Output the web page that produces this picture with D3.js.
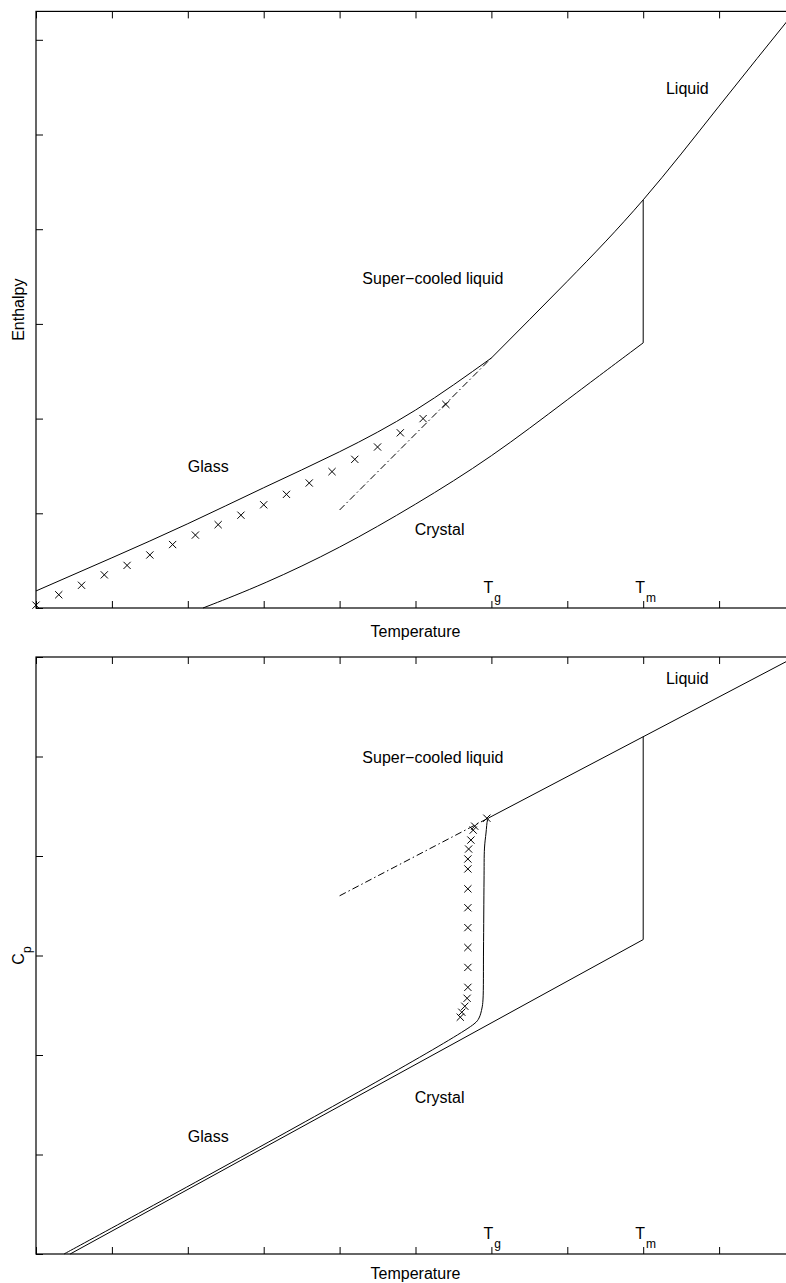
<!DOCTYPE html>
<html>
<head>
<meta charset="utf-8">
<script src="https://cdn.jsdelivr.net/npm/d3@7/dist/d3.min.js"></script>
<style>
  html, body { margin: 0; padding: 0; background: #fff; }
  svg { display: block; }
  text { font-family: "Liberation Sans", Arial, Helvetica, sans-serif; fill: #000; }
</style>
</head>
<body>
<svg id="chart" width="786" height="1283"></svg>
<script>
// ---- Shared temperature axis ----
const xTicks = [0, 1, 2, 3, 4, 5, 6, 7, 8, 9, 10];
const tgTemp = 6;   // glass transition temperature
const tmTemp = 8;   // melting temperature

// ---- Enthalpy panel ----
const hTicks = [0, 1, 2, 3, 4, 5, 6];
const hLiquidT = [6, 7, 8, 9, 10];
const hLiquid  = [2.64, 3.45, 4.31, 5.30, 6.30];
const hGlassT  = [0, 1, 2, 3, 4, 5, 6];
const hGlass   = [0.18, 0.53, 0.89, 1.27, 1.65, 2.09, 2.64];
const hCrystalT = [2.2, 3, 4, 5, 6, 7, 8];
const hCrystal  = [0.0, 0.25, 0.63, 1.09, 1.59, 2.20, 2.80];
const hMeltJump = [2.80, 4.31];
const hExtrapT = [4.0, 6.0];
const hExtrap  = [1.035, 2.64];
const hMarkT = [0, 0.3, 0.6, 0.9, 1.2, 1.5, 1.8, 2.1, 2.4, 2.7, 3.0, 3.3, 3.6, 3.9, 4.2, 4.5, 4.8, 5.1, 5.4];
const hMark  = [0.03, 0.14, 0.24, 0.35, 0.45, 0.56, 0.67, 0.77, 0.88, 0.98, 1.09, 1.20, 1.32, 1.44, 1.57, 1.70, 1.85, 2.00, 2.15];

// ---- Heat capacity panel ----
const cTicks = [0, 1, 2, 3, 4, 5, 6];
const cLiquidT = [5.962, 10];
const cLiquid  = [4.382, 6.0];
const cGlassT = [0.369, 5.771, 5.837, 5.876, 5.889, 5.896, 5.903, 5.909, 5.929, 5.949, 5.962];
const cGlass  = [0.0, 2.312, 2.372, 2.472, 2.553, 3.055, 3.759, 4.080, 4.231, 4.362, 4.382];
const cCrystalT = [0.45, 8];
const cCrystal  = [0.0, 3.16];
const cMeltJump = [3.16, 5.20];
const cExtrapT = [4.0, 5.962];
const cExtrap  = [3.60, 4.382];
const cMarkT = [5.94, 5.78, 5.76, 5.73, 5.70, 5.69, 5.69, 5.69, 5.69, 5.69, 5.69, 5.69, 5.69, 5.68, 5.65, 5.61, 5.59];
const cMark  = [4.38, 4.30, 4.26, 4.16, 4.07, 3.97, 3.87, 3.67, 3.48, 3.28, 3.08, 2.88, 2.68, 2.57, 2.49, 2.43, 2.38];

// Region labels [text, T, value]
const hLabels = [["Liquid", 8.30, 5.43], ["Super\u2212cooled liquid", 4.30, 3.42], ["Glass", 2.00, 1.44], ["Crystal", 4.99, 0.77]];
const cLabels = [["Liquid", 8.30, 5.73], ["Super\u2212cooled liquid", 4.30, 4.93], ["Glass", 2.00, 1.13], ["Crystal", 4.99, 1.52]];

const svg = d3.select("#chart");
const x = d3.scaleLinear().domain([0, 10]).range([36, 795]);

function zip(a, b) { return a.map((v, i) => [v, b[i]]); }

function panel(cfg) {
  const y = d3.scaleLinear().domain(cfg.yDomain).range(cfg.yRange);
  const g = svg.append("g");
  const [yb, yt] = cfg.yRange;
  const xl = x.range()[0], xr = x.range()[1];

  // inward ticks on all four sides
  const tick = 7;
  const axes = [
    [d3.axisBottom(x).tickValues(xTicks), `translate(0,${yb})`],
    [d3.axisTop(x).tickValues(xTicks), `translate(0,${yt})`],
    [d3.axisLeft(y).tickValues(cfg.yTicks), `translate(${xl},0)`],
    [d3.axisRight(y).tickValues(cfg.yTicks), `translate(${xr},0)`]
  ];
  axes.forEach(([ax, tr]) => {
    const a = g.append("g").attr("transform", tr)
      .call(ax.tickSizeInner(-tick).tickSizeOuter(0).tickFormat(() => ""));
    a.select(".domain").remove();
    a.selectAll("line").attr("stroke", "#000").attr("stroke-width", 1);
  });

  g.append("rect")
    .attr("x", xl).attr("y", yt).attr("width", xr - xl).attr("height", yb - yt)
    .attr("fill", "none").attr("stroke", "#000").attr("stroke-width", 1.2);

  const curve = (pts, c) => d3.line().x(d => x(d[0])).y(d => y(d[1])).curve(c || d3.curveLinear)(pts);
  const draw = (pts, c, dash) => g.append("path").attr("d", curve(pts, c))
      .attr("fill", "none").attr("stroke", "#000").attr("stroke-width", 1)
      .attr("stroke-dasharray", dash || null);

  cfg.lines.forEach(l => draw(l.pts, l.curve, l.dash));

  // x markers
  const s = 3.6;
  g.append("g").selectAll("path").data(cfg.marks).join("path")
    .attr("d", d => { const px = x(d[0]), py = y(d[1]);
      return `M${px - s},${py - s}L${px + s},${py + s}M${px - s},${py + s}L${px + s},${py - s}`; })
    .attr("stroke", "#000").attr("stroke-width", 1).attr("fill", "none");

  // region labels
  g.append("g").selectAll("text").data(cfg.labels).join("text")
    .attr("x", d => x(d[1])).attr("y", d => y(d[2]))
    .attr("font-size", 16).text(d => d[0]);

  // Tg, Tm markers
  [["T", "g", tgTemp], ["T", "m", tmTemp]].forEach(([m, sub, t]) => {
    const tx = g.append("text").attr("x", x(t) - 8).attr("y", yb - 15).attr("font-size", 16);
    tx.append("tspan").text(m);
    tx.append("tspan").attr("dx", 1).attr("dy", 9).attr("font-size", 12).text(sub);
  });

  // axis titles
  g.append("text").attr("x", (xl + xr) / 2).attr("y", yb + cfg.xTitleGap)
    .attr("text-anchor", "middle").attr("font-size", 16).text("Temperature");
  const yl = g.append("text")
    .attr("transform", `translate(24,${(yb + yt) / 2}) rotate(-90)`)
    .attr("text-anchor", "middle").attr("font-size", 16);
  yl.append("tspan").text(cfg.yTitle[0]);
  if (cfg.yTitle[1]) yl.append("tspan").attr("dy", 7).attr("font-size", 12).text(cfg.yTitle[1]);
}

panel({
  yDomain: [0, 6.3], yRange: [608, 11.4], yTicks: hTicks, yTitle: ["Enthalpy"], xTitleGap: 29,
  lines: [
    { pts: zip(hLiquidT, hLiquid), curve: d3.curveNatural },
    { pts: zip(hGlassT, hGlass), curve: d3.curveNatural },
    { pts: zip(hCrystalT, hCrystal), curve: d3.curveBasis },
    { pts: [[tmTemp, hMeltJump[0]], [tmTemp, hMeltJump[1]]] },
    { pts: zip(hExtrapT, hExtrap), dash: "7,3,1.5,3" }
  ],
  marks: zip(hMarkT, hMark),
  labels: hLabels
});

panel({
  yDomain: [0, 6], yRange: [1254, 657], yTicks: cTicks, yTitle: ["C", "p"], xTitleGap: 25,
  lines: [
    { pts: zip(cLiquidT, cLiquid) },
    { pts: zip(cGlassT, cGlass), curve: d3.curveCatmullRom.alpha(0.5) },
    { pts: zip(cCrystalT, cCrystal) },
    { pts: [[tmTemp, cMeltJump[0]], [tmTemp, cMeltJump[1]]] },
    { pts: zip(cExtrapT, cExtrap), dash: "7,3,1.5,3" }
  ],
  marks: zip(cMarkT, cMark),
  labels: cLabels
});
</script>
</body>
</html>
